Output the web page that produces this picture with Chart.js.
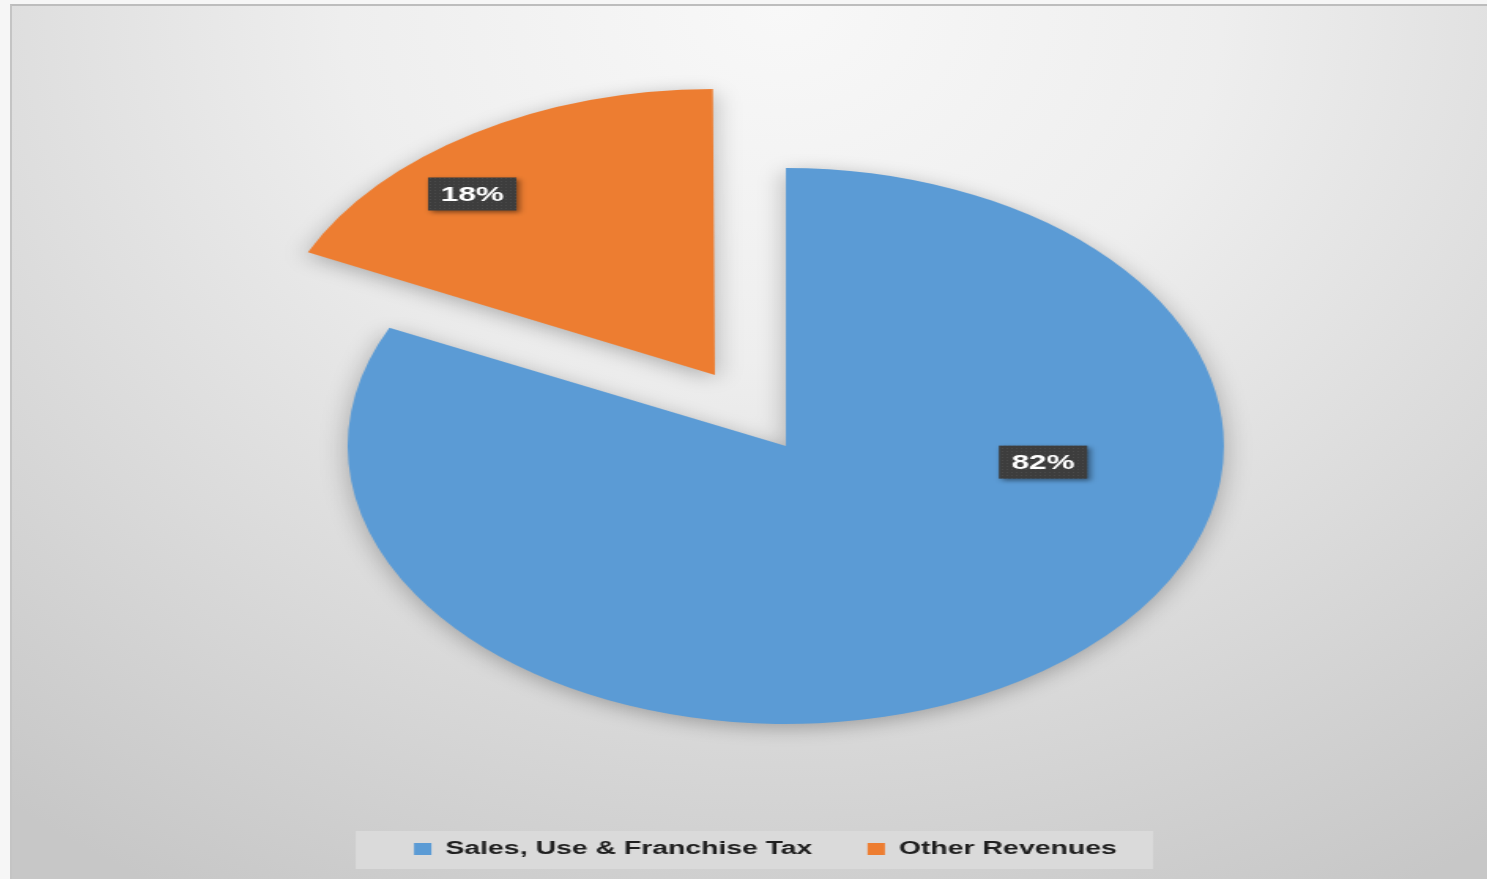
<!DOCTYPE html>
<html>
<head>
<meta charset="utf-8">
<title>Revenue sources</title>
<script src="https://cdn.jsdelivr.net/npm/chart.js@4.4.1/dist/chart.umd.min.js"></script>
<style>
  html, body { margin: 0; padding: 0; background: #f6f6f6; overflow: hidden; }
  #frame {
    position: absolute; left: 10px; top: 4px; width: 1480px; height: 880px;
    border-top: 2px solid #bdbdbd; border-left: 2px solid #c4c4c4;
    background: radial-gradient(ellipse 85% 115% at 52% 0%, #f8f8f8 0%, #eeeeee 35%, #d9d9d9 70%, #c7c7c7 100%);
    overflow: hidden;
  }
  /* chart is drawn narrow and stretched sideways, like the pasted slide graphic */
  #stretch {
    position: absolute; left: 0; top: 0; width: 936px; height: 873px;
    transform: scaleX(1.576); transform-origin: 0 0;
  }
</style>
</head>
<body>
<div id="frame">
  <div id="stretch"><canvas id="revChart"></canvas></div>
</div>
<script>
const categories = ['Sales, Use & Franchise Tax', 'Other Revenues'];
const shares = [82, 18];
const sliceColors = ['#5B9BD5', '#ED7D31'];
const explode = [0, 84];   // px the slice is pulled out

// where each % label sits: fraction along the slice angle, fraction of radius
const labelSpots = [[0.324, 0.59], [0.377, 0.855]];

function dotPattern(ctx) {
  const c = document.createElement('canvas');
  c.width = 3; c.height = 3;
  const p = c.getContext('2d');
  p.fillStyle = '#3d3d3d';
  p.fillRect(0, 0, 3, 3);
  p.fillStyle = '#4a4a4a';
  p.fillRect(1, 1, 1, 1);
  return ctx.createPattern(c, 'repeat');
}

const pieShadow = {
  id: 'pieShadow',
  beforeDatasetsDraw(chart) {
    const ctx = chart.ctx;
    ctx.save();
    ctx.shadowColor = 'rgba(0,0,0,0.28)';
    ctx.shadowBlur = 18;
    ctx.shadowOffsetY = 4;
  },
  afterDatasetsDraw(chart) {
    chart.ctx.restore();
  }
};

const legendBox = {
  id: 'legendBox',
  afterLayout(chart) {
    chart.legend.left -= 13;
    chart.legend.right -= 13;
  },
  beforeDraw(chart) {
    const boxes = chart.legend.legendHitBoxes;
    if (!boxes || !boxes.length) return;
    const first = boxes[0], last = boxes[boxes.length - 1];
    const cy = first.top + first.height / 2;
    const ctx = chart.ctx;
    ctx.save();
    ctx.fillStyle = '#dadada';
    ctx.fillRect(first.left - 37, cy - 18, last.left + last.width - first.left + 37 + 23, 38);
    ctx.restore();
  }
};

const pctLabels = {
  id: 'pctLabels',
  afterDatasetsDraw(chart) {
    const ctx = chart.ctx;
    const meta = chart.getDatasetMeta(0);
    const total = shares.reduce((a, b) => a + b, 0);
    const fill = dotPattern(ctx);
    meta.data.forEach((arc, i) => {
      const {x, y, startAngle, endAngle, outerRadius} = arc.getProps(['x', 'y', 'startAngle', 'endAngle', 'outerRadius'], true);
      const mid = (startAngle + endAngle) / 2;
      const ox = x + Math.cos(mid) * explode[i];
      const oy = y + Math.sin(mid) * explode[i];
      const a = startAngle + (endAngle - startAngle) * labelSpots[i][0];
      const r = outerRadius * labelSpots[i][1];
      const lx = ox + Math.cos(a) * r;
      const ly = oy + Math.sin(a) * r;
      const text = Math.round(shares[i] / total * 100) + '%';
      ctx.save();
      ctx.font = 'bold 20px "Liberation Sans", Arial, sans-serif';
      const w = ctx.measureText(text).width + 16;
      const h = 33;
      ctx.shadowColor = 'rgba(0,0,0,0.45)';
      ctx.shadowBlur = 4;
      ctx.shadowOffsetX = 2;
      ctx.shadowOffsetY = 2;
      ctx.fillStyle = fill;
      ctx.fillRect(lx - w / 2, ly - h / 2, w, h);
      ctx.shadowColor = 'transparent';
      ctx.fillStyle = '#ffffff';
      ctx.textAlign = 'center';
      ctx.textBaseline = 'middle';
      ctx.fillText(text, lx, ly + 1);
      ctx.restore();
    });
  }
};

new Chart(document.getElementById('revChart'), {
  type: 'pie',
  data: {
    labels: categories,
    datasets: [{
      data: shares,
      backgroundColor: sliceColors,
      borderWidth: 0,
      // ArcElement moves a slice by a quarter of its offset
      offset: explode.map(v => v * 4),
      radius: 278
    }]
  },
  options: {
    responsive: true,
    maintainAspectRatio: false,
    animation: false,
    layout: { padding: { top: 81, bottom: 11, left: 46, right: 0 } },
    plugins: {
      tooltip: { enabled: false },
      legend: {
        position: 'bottom',
        labels: {
          boxWidth: 11,
          boxHeight: 12,
          padding: 35,
          color: '#1f1f1f',
          font: { family: '"Liberation Sans", Arial, sans-serif', size: 18, weight: 'bold' }
        }
      }
    }
  },
  plugins: [pieShadow, legendBox, pctLabels]
});
</script>
</body>
</html>
